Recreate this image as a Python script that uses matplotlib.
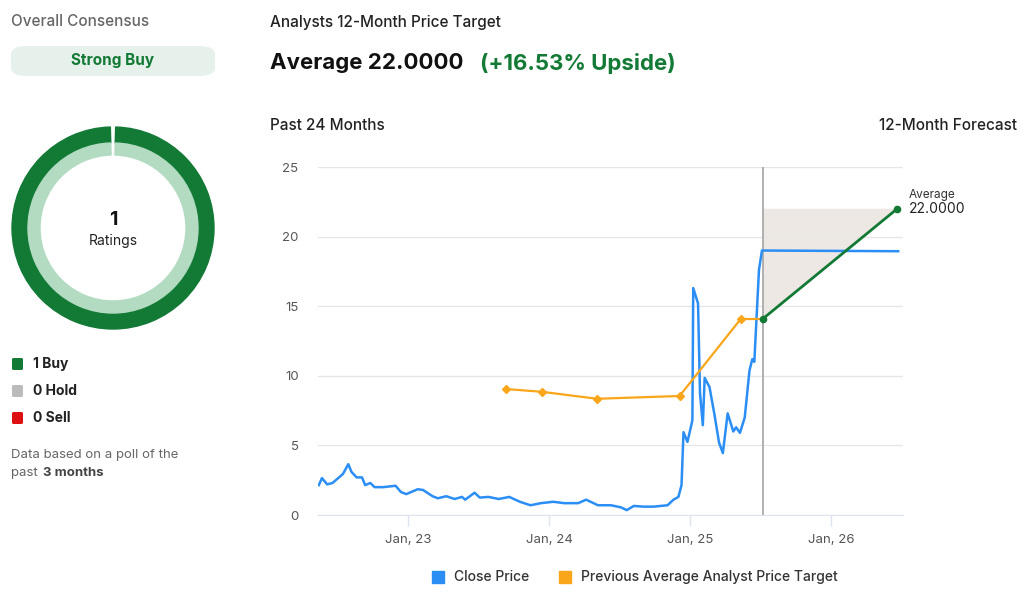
import matplotlib
matplotlib.use("Agg")
import matplotlib.pyplot as plt
from matplotlib.patches import FancyBboxPatch, Rectangle, Wedge

plt.rcParams['font.family'] = ['Inter', 'DejaVu Sans']

close_t = [2022.366, 2022.388, 2022.425, 2022.463, 2022.537, 2022.575, 2022.597, 2022.634, 2022.672, 2022.694,
           2022.731, 2022.761, 2022.821, 2022.910, 2022.948, 2022.985, 2023.067, 2023.104, 2023.172, 2023.209,
           2023.269, 2023.328, 2023.381, 2023.403, 2023.470, 2023.507, 2023.567, 2023.642, 2023.716, 2023.791,
           2023.866, 2023.940, 2024.028, 2024.106, 2024.204, 2024.261, 2024.345, 2024.437, 2024.507, 2024.549,
           2024.599, 2024.669, 2024.739, 2024.838, 2024.880, 2024.915, 2024.937, 2024.951, 2024.979, 2025.014,
           2025.020, 2025.054, 2025.068, 2025.088, 2025.101, 2025.135, 2025.169, 2025.203, 2025.230, 2025.264,
           2025.304, 2025.324, 2025.351, 2025.385, 2025.419, 2025.439, 2025.453, 2025.486, 2025.507, 2026.473]
close_v = [2.15, 2.65, 2.2, 2.3, 2.95, 3.65, 3.1, 2.7, 2.7, 2.15,
           2.3, 2.0, 2.0, 2.1, 1.65, 1.5, 1.85, 1.8, 1.35, 1.2,
           1.35, 1.15, 1.3, 1.1, 1.6, 1.25, 1.3, 1.15, 1.3, 0.95,
           0.7, 0.85, 0.95, 0.85, 0.85, 1.1, 0.7, 0.7, 0.55, 0.35,
           0.65, 0.6, 0.6, 0.7, 1.1, 1.3, 2.15, 5.95, 5.25, 6.8,
           16.3, 15.2, 8.75, 6.45, 9.85, 9.2, 7.3, 5.2, 4.45, 7.3,
           6.0, 6.3, 5.9, 7.0, 10.4, 11.2, 11.0, 17.6, 19.0, 18.95]
target_t = [2023.694, 2023.948, 2024.338, 2024.923, 2025.358, 2025.514]
target_v = [9.05, 8.85, 8.35, 8.55, 14.1, 14.1]
forecast_t = [2025.514, 2026.466]
forecast_v = [14.1, 22.0]
xticks = [2023, 2024, 2025, 2026]
xticklabels = ["Jan, 23", "Jan, 24", "Jan, 25", "Jan, 26"]
yticks = [0, 5, 10, 15, 20, 25]

GREEN = "#137a36"
fig = plt.figure(figsize=(10.24, 5.97), dpi=100)

ax = fig.add_axes([318/1024, 1-515/597, 585/1024, 348/597])
ax.set_xlim(2022.36, 2026.507)
ax.set_ylim(0, 25)
for y in yticks:
    ax.axhline(y, color="#e6e6e6", lw=1, zorder=0)
ax.fill([forecast_t[0], forecast_t[1], forecast_t[0]], [forecast_v[1], forecast_v[1], forecast_v[0]],
        color="#ebe6e1", alpha=0.9, lw=0, zorder=1)
ax.axvline(forecast_t[0], color="#aaaaaa", lw=1.3, zorder=2)
ax.plot(close_t, close_v, color="#2b8ef5", lw=1.8, zorder=3)
ax.plot(target_t[:-1], target_v[:-1], color="#f9a61a", lw=1.6, marker="D", ms=4, zorder=4)
ax.plot(target_t[-2:], target_v[-2:], color="#f9a61a", lw=1.6, zorder=4)
ax.plot(forecast_t, forecast_v, color=GREEN, lw=2, marker="o", ms=4.5, zorder=5)
ax.text(forecast_t[1] + 0.08, forecast_v[1] + 1.0, "Average", fontsize=8.5, color="#333333", ha="left", va="center")
ax.text(forecast_t[1] + 0.08, forecast_v[1], "22.0000", fontsize=10, color="#222222", ha="left", va="center")
ax.set_yticks(yticks)
ax.set_xticks(xticks)
ax.set_xticklabels(xticklabels)
ax.tick_params(axis="y", length=0, labelsize=9.5, colors="#555555", pad=14)
ax.tick_params(axis="x", length=8, width=1, color="#dde3ef", labelsize=9.5, labelcolor="#555555", pad=6)
for s in ["top", "right", "left"]:
    ax.spines[s].set_visible(False)
ax.spines["bottom"].set_color("#dde3ef")
ax.set_facecolor("none")

# Header texts
fig.text(270/1024, 1-22/597, "Analysts 12-Month Price Target", fontsize=11, color="#222222", va="center", weight="medium")
fig.text(270/1024, 1-63/597, "Average 22.0000", fontsize=16, color="#111111", va="center", weight="bold")
fig.text(480/1024, 1-63/597, "(+16.53% Upside)", fontsize=16, color=GREEN, va="center", weight="bold")
fig.text(270/1024, 1-126/597, "Past 24 Months", fontsize=11, color="#222222", va="center", weight="medium")
fig.text(1017/1024, 1-126/597, "12-Month Forecast", fontsize=11, color="#222222", va="center", ha="right", weight="medium")

# legend
fig.patches.append(Rectangle((432/1024, 1-583/597), 12/1024, 12/597, transform=fig.transFigure, color="#2b8ef5"))
fig.text(454/1024, 1-577/597, "Close Price", fontsize=10, color="#333333", va="center", weight="medium")
fig.patches.append(Rectangle((559/1024, 1-583/597), 12/1024, 12/597, transform=fig.transFigure, color="#f9a61a"))
fig.text(581/1024, 1-577/597, "Previous Average Analyst Price Target", fontsize=10, color="#333333", va="center", weight="medium")

# Left panel
fig.text(11/1024, 1-22/597, "Overall Consensus", fontsize=11, color="#666666", va="center", weight="medium")
fig.patches.append(FancyBboxPatch((11/1024, 1-76/597), 204/1024, 30/597, transform=fig.transFigure,
                                  boxstyle="round,pad=0,rounding_size=0.015", color="#e5f1ea", lw=0))
fig.text(113/1024, 1-61/597, "Strong Buy", fontsize=11, color=GREEN, va="center", ha="center", weight="bold")

dax = fig.add_axes([3/1024, 1-338/597, 220/1024, 220/597])
dax.set_xlim(-110, 110); dax.set_ylim(-110, 110); dax.set_aspect("equal"); dax.axis("off")
dax.add_patch(Wedge((0, 0), 101, 91.5, 88.5 + 360, width=16, color=GREEN))
dax.add_patch(Wedge((0, 0), 85, 91.5, 88.5 + 360, width=12, color="#b3dbc2"))
dax.text(0, 8, "1", fontsize=14, weight="bold", ha="center", va="center", color="#111111")
dax.text(0, -13, "Ratings", fontsize=10, ha="center", va="center", color="#222222")

items = [("1 Buy", GREEN, 364), ("0 Hold", "#bbbbbb", 391), ("0 Sell", "#dd1111", 418)]
for lab, col, yy in items:
    fig.patches.append(FancyBboxPatch((12/1024, 1-(yy+6)/597), 11/1024, 12/597, transform=fig.transFigure,
                                      boxstyle="round,pad=0,rounding_size=0.002", color=col, lw=0))
    fig.text(33/1024, 1-yy/597, lab, fontsize=10, color="#222222", va="center", weight="bold")
fig.text(11/1024, 1-455/597, "Data based on a poll of the", fontsize=9.5, color="#666666", va="center")
fig.text(11/1024, 1-473/597, "past ", fontsize=9.5, color="#666666", va="center")
fig.text(43/1024, 1-473/597, "3 months", fontsize=9.5, color="#444444", va="center", weight="bold")

fig.savefig("out.png", dpi=100, facecolor="white")
